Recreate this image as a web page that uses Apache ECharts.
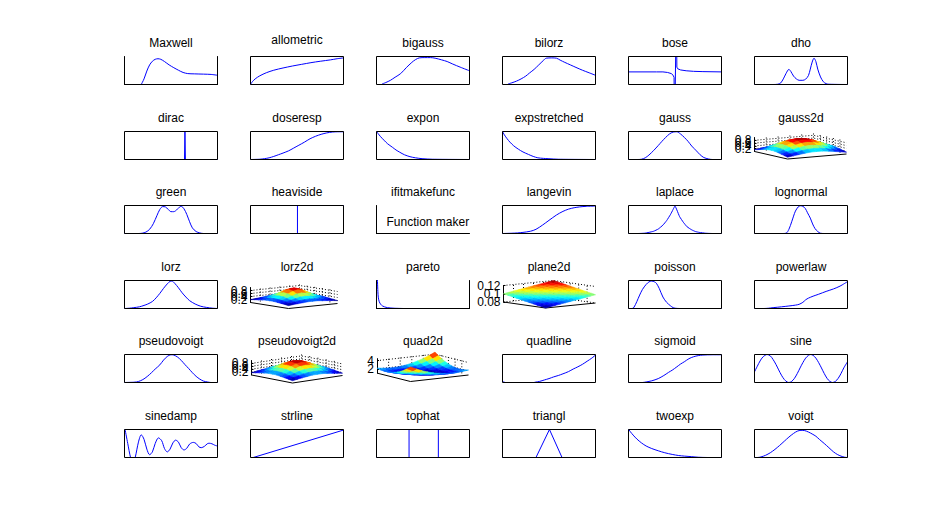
<!DOCTYPE html>
<html><head><meta charset="utf-8">
<script src="https://cdn.jsdelivr.net/npm/echarts@6/dist/echarts.min.js"></script>
<style>html,body{margin:0;padding:0;background:#fff;}#c{width:935px;height:522px;}</style>
</head><body><div id="c"></div>
<script>
// ---------------- panel titles (categories) ----------------
const panelNames = ['Maxwell','allometric','bigauss','bilorz','bose','dho',
  'dirac','doseresp','expon','expstretched','gauss','gauss2d',
  'green','heaviside','ifitmakefunc','langevin','laplace','lognormal',
  'lorz','lorz2d','pareto','plane2d','poisson','powerlaw',
  'pseudovoigt','pseudovoigt2d','quad2d','quadline','sigmoid','sine',
  'sinedamp','strline','tophat','triangl','twoexp','voigt'];
const makerText = 'Function maker';

// ---------------- z-axis tick labels of the 3D panels ----------------
const zTicksPeak = [0.2, 0.4, 0.6, 0.8];
const zTicksPlane = [0.08, 0.1, 0.12];
const zTicksQuad = [2, 4];

// ---------------- 1D curves: [x, y] in axis units (x and y 0..1) ----------------
const maxwell = [[0.18,0],[0.21,0.2],[0.24,0.48],[0.27,0.7],[0.3,0.83],[0.33,0.9],[0.36,0.92],[0.39,0.9],[0.43,0.82],[0.48,0.7],[0.53,0.6],[0.58,0.51],[0.63,0.43],[0.68,0.39],[0.75,0.38],[0.85,0.37],[0.93,0.36],[1,0.33]];
const allometric = [[0,0],[0.02,0.1],[0.05,0.2],[0.1,0.31],[0.17,0.42],[0.25,0.51],[0.35,0.59],[0.45,0.66],[0.55,0.72],[0.65,0.78],[0.75,0.83],[0.86,0.88],[0.93,0.92],[1,0.95]];
const bigauss = [[0.06,0.02],[0.1,0.07],[0.15,0.15],[0.2,0.26],[0.26,0.39],[0.32,0.6],[0.38,0.79],[0.42,0.89],[0.46,0.95],[0.52,0.96],[0.58,0.96],[0.63,0.94],[0.7,0.88],[0.76,0.82],[0.82,0.73],[0.9,0.62],[1,0.49]];
const bilorz = [[0.06,0.02],[0.1,0.06],[0.15,0.12],[0.2,0.2],[0.25,0.3],[0.29,0.41],[0.34,0.54],[0.39,0.7],[0.44,0.86],[0.47,0.94],[0.53,0.95],[0.58,0.94],[0.62,0.87],[0.67,0.79],[0.73,0.7],[0.79,0.61],[0.86,0.51],[0.93,0.42],[1,0.33]];
const bose = [[0,0.45],[0.3,0.45],[0.37,0.45],[0.42,0.43],[0.46,0.39],[0.48,0.33],[0.49,0.25],[0.495,-2],[0.515,3],[0.52,0.62],[0.53,0.56],[0.56,0.52],[0.62,0.49],[0.7,0.47],[0.8,0.46],[1,0.45]];
const dho = [[0,0],[0.2,0],[0.25,0.01],[0.28,0.05],[0.31,0.2],[0.34,0.4],[0.37,0.54],[0.39,0.47],[0.42,0.3],[0.45,0.2],[0.48,0.15],[0.52,0.15],[0.55,0.19],[0.58,0.32],[0.6,0.55],[0.62,0.8],[0.64,0.94],[0.66,0.82],[0.68,0.55],[0.71,0.27],[0.74,0.1],[0.77,0.03],[0.8,0.01],[1,0]];
const dirac = [[0,0],[0.645,0],[0.65,1],[0.655,0],[1,0]];
const doseresp = [[0,0],[0.1,0.01],[0.15,0.03],[0.2,0.06],[0.25,0.11],[0.3,0.17],[0.35,0.23],[0.41,0.31],[0.46,0.4],[0.52,0.51],[0.58,0.62],[0.64,0.74],[0.7,0.83],[0.76,0.9],[0.82,0.95],[0.88,0.98],[0.94,0.99],[1,0.99]];
const expon = [[0,1],[0.04,0.83],[0.08,0.69],[0.12,0.56],[0.17,0.44],[0.21,0.34],[0.25,0.26],[0.3,0.17],[0.36,0.1],[0.42,0.06],[0.49,0.03],[0.6,0.01],[1,0]];
const expstretched = [[0,1],[0.02,0.88],[0.05,0.74],[0.08,0.62],[0.12,0.49],[0.17,0.37],[0.22,0.27],[0.28,0.18],[0.33,0.11],[0.38,0.06],[0.44,0.04],[0.49,0.03],[0.6,0.01],[1,0]];
const gauss = [[0,0],[0.1,0],[0.14,0.01],[0.18,0.06],[0.22,0.16],[0.27,0.32],[0.32,0.5],[0.36,0.65],[0.4,0.79],[0.44,0.91],[0.48,0.98],[0.52,0.99],[0.56,0.91],[0.6,0.79],[0.64,0.65],[0.68,0.48],[0.73,0.31],[0.77,0.17],[0.81,0.07],[0.86,0.02],[0.9,0],[1,0]];
const green = [[0,0],[0.15,0],[0.19,0.01],[0.23,0.05],[0.27,0.15],[0.31,0.35],[0.35,0.65],[0.38,0.86],[0.41,0.96],[0.44,0.95],[0.47,0.86],[0.5,0.78],[0.53,0.78],[0.56,0.84],[0.59,0.94],[0.61,0.97],[0.64,0.88],[0.67,0.68],[0.7,0.42],[0.73,0.2],[0.77,0.07],[0.81,0.02],[0.85,0],[1,0]];
const heaviside = [[0,0],[0.505,0],[0.505,1],[1,1]];
const langevin = [[0,0],[0.1,0.01],[0.16,0.02],[0.22,0.04],[0.3,0.08],[0.36,0.15],[0.43,0.3],[0.5,0.47],[0.58,0.66],[0.65,0.79],[0.71,0.87],[0.77,0.92],[0.83,0.95],[0.9,0.97],[1,0.98]];
const laplace = [[0,0],[0.1,0],[0.17,0.01],[0.22,0.04],[0.27,0.08],[0.32,0.16],[0.37,0.3],[0.41,0.46],[0.45,0.67],[0.48,0.86],[0.5,0.98],[0.52,0.84],[0.55,0.6],[0.59,0.4],[0.63,0.24],[0.68,0.13],[0.72,0.07],[0.76,0.04],[0.83,0.01],[0.9,0],[1,0]];
const lognormal = [[0,0],[0.3,0],[0.34,0.01],[0.37,0.15],[0.4,0.42],[0.42,0.62],[0.44,0.8],[0.47,0.95],[0.495,0.99],[0.52,0.97],[0.545,0.9],[0.57,0.74],[0.6,0.55],[0.625,0.34],[0.65,0.18],[0.68,0.07],[0.71,0.01],[0.75,0],[1,0]];
const lorz = [[0,0],[0.05,0.01],[0.1,0.03],[0.16,0.06],[0.21,0.11],[0.25,0.16],[0.3,0.25],[0.34,0.38],[0.38,0.54],[0.42,0.72],[0.46,0.88],[0.49,0.97],[0.51,0.98],[0.54,0.9],[0.58,0.74],[0.62,0.56],[0.66,0.41],[0.7,0.28],[0.76,0.16],[0.82,0.08],[0.88,0.04],[0.95,0.01],[1,0]];
const pareto = [[0.008,1.2],[0.015,0.6],[0.02,0.38],[0.03,0.24],[0.045,0.15],[0.065,0.09],[0.085,0.06],[0.12,0.03],[0.19,0.01],[0.29,0]];
const poisson = [[0,0],[0.04,0],[0.06,0.05],[0.09,0.25],[0.12,0.48],[0.15,0.68],[0.19,0.86],[0.22,0.95],[0.25,0.98],[0.28,0.95],[0.3,0.9],[0.33,0.72],[0.37,0.41],[0.41,0.22],[0.45,0.1],[0.48,0.03],[0.5,0.01],[0.55,0],[1,0]];
const powerlaw = [[0,0],[0.1,0],[0.15,0.01],[0.2,0.03],[0.29,0.06],[0.37,0.09],[0.44,0.12],[0.48,0.15],[0.52,0.22],[0.55,0.31],[0.58,0.37],[0.63,0.44],[0.69,0.51],[0.77,0.61],[0.85,0.7],[0.92,0.8],[1,0.96]];
const pseudovoigt = [[0,0],[0.1,0.01],[0.13,0.02],[0.17,0.06],[0.21,0.13],[0.25,0.23],[0.29,0.35],[0.33,0.48],[0.38,0.63],[0.42,0.8],[0.46,0.93],[0.5,0.99],[0.53,0.98],[0.57,0.91],[0.61,0.79],[0.65,0.64],[0.69,0.5],[0.73,0.35],[0.77,0.22],[0.81,0.12],[0.85,0.05],[0.89,0.02],[0.93,0],[1,0]];
const quadline = [[0,0.04],[0.02,0.01],[0.05,-0.02],[0.1,-0.06],[0.2,-0.08],[0.3,-0.04],[0.35,0.01],[0.4,0.04],[0.45,0.09],[0.5,0.14],[0.55,0.2],[0.6,0.25],[0.65,0.31],[0.71,0.39],[0.76,0.48],[0.81,0.56],[0.86,0.65],[0.91,0.76],[0.96,0.87],[1,0.98]];
const sigmoid = [[0,0],[0.15,0],[0.19,0.02],[0.25,0.06],[0.32,0.14],[0.38,0.25],[0.43,0.36],[0.47,0.44],[0.52,0.56],[0.56,0.66],[0.6,0.74],[0.65,0.85],[0.7,0.92],[0.75,0.96],[0.8,0.98],[0.9,0.99],[1,0.99]];
const sine = [[0,0.38],[0.03,0.58],[0.06,0.77],[0.09,0.91],[0.135,1],[0.17,0.95],[0.2,0.82],[0.23,0.65],[0.26,0.45],[0.29,0.26],[0.32,0.11],[0.35,0.02],[0.37,0],[0.4,0.04],[0.43,0.15],[0.46,0.32],[0.49,0.52],[0.52,0.71],[0.55,0.87],[0.58,0.97],[0.605,1],[0.63,0.97],[0.66,0.87],[0.69,0.71],[0.72,0.52],[0.75,0.32],[0.78,0.15],[0.81,0.04],[0.84,0],[0.87,0.04],[0.9,0.15],[0.93,0.32],[0.96,0.52],[1,0.74]];
const sinedamp = [[0.005,1.02],[0.035,0.5],[0.065,0],[0.09,-0.2],[0.115,0],[0.15,0.55],[0.18,0.81],[0.21,0.65],[0.24,0.3],[0.27,0.1],[0.3,0.2],[0.33,0.5],[0.365,0.7],[0.4,0.6],[0.43,0.32],[0.46,0.2],[0.49,0.3],[0.52,0.52],[0.55,0.62],[0.58,0.55],[0.61,0.35],[0.64,0.27],[0.67,0.33],[0.7,0.48],[0.74,0.54],[0.77,0.5],[0.8,0.38],[0.825,0.35],[0.86,0.4],[0.89,0.49],[0.91,0.51],[0.94,0.49],[0.97,0.44],[1,0.41]];
const strline = [[0,-0.03],[1,0.98]];
const tophat = [[0,0],[0.35,0],[0.35,1],[0.665,1],[0.665,0],[1,0]];
const triangl = [[0,0],[0.36,0],[0.505,1],[0.64,0],[1,0]];
const twoexp = [[0,1.02],[0.02,0.92],[0.05,0.8],[0.09,0.66],[0.14,0.52],[0.19,0.41],[0.25,0.32],[0.32,0.24],[0.39,0.17],[0.47,0.11],[0.54,0.07],[0.6,0.05],[0.68,0.03],[0.75,0.01],[0.85,0],[1,0]];
const voigt = [[0,0],[0.03,0],[0.07,0.02],[0.12,0.08],[0.17,0.17],[0.22,0.29],[0.27,0.43],[0.32,0.58],[0.37,0.73],[0.42,0.86],[0.46,0.94],[0.5,0.97],[0.54,0.96],[0.58,0.91],[0.62,0.84],[0.66,0.76],[0.7,0.64],[0.75,0.5],[0.8,0.35],[0.85,0.2],[0.89,0.11],[0.93,0.05],[0.97,0.01],[1,0]];

// ---------------- 2D surfaces: z on an 11x11 grid (rows: front axis, cols: right axis) ----------------
const gauss2dZ = [
 [.13,.19,.25,.31,.35,.36,.35,.31,.25,.19,.13],
 [.19,.27,.36,.44,.50,.52,.50,.44,.36,.27,.19],
 [.25,.36,.48,.59,.66,.69,.66,.59,.48,.36,.25],
 [.31,.44,.59,.72,.82,.85,.82,.72,.59,.44,.31],
 [.35,.50,.66,.82,.92,.96,.92,.82,.66,.50,.35],
 [.36,.52,.69,.85,.96,1.0,.96,.85,.69,.52,.36],
 [.35,.50,.66,.82,.92,.96,.92,.82,.66,.50,.35],
 [.31,.44,.59,.72,.82,.85,.82,.72,.59,.44,.31],
 [.25,.36,.48,.59,.66,.69,.66,.59,.48,.36,.25],
 [.19,.27,.36,.44,.50,.52,.50,.44,.36,.27,.19],
 [.13,.19,.25,.31,.35,.36,.35,.31,.25,.19,.13]];
const lorz2dZ = [
 [.19,.23,.26,.29,.32,.32,.32,.29,.26,.23,.19],
 [.23,.27,.32,.38,.41,.43,.41,.38,.32,.27,.23],
 [.26,.32,.40,.48,.55,.57,.55,.48,.40,.32,.26],
 [.29,.38,.48,.60,.71,.75,.71,.60,.48,.38,.29],
 [.32,.41,.55,.71,.86,.92,.86,.71,.55,.41,.32],
 [.32,.43,.57,.75,.92,1.0,.92,.75,.57,.43,.32],
 [.32,.41,.55,.71,.86,.92,.86,.71,.55,.41,.32],
 [.29,.38,.48,.60,.71,.75,.71,.60,.48,.38,.29],
 [.26,.32,.40,.48,.55,.57,.55,.48,.40,.32,.26],
 [.23,.27,.32,.38,.41,.43,.41,.38,.32,.27,.23],
 [.19,.23,.26,.29,.32,.32,.32,.29,.26,.23,.19]];
const plane2dZ = [
 [.100,.102,.104,.106,.108,.110,.112,.114,.116,.118,.120],
 [.098,.100,.102,.104,.106,.108,.110,.112,.114,.116,.118],
 [.096,.098,.100,.102,.104,.106,.108,.110,.112,.114,.116],
 [.094,.096,.098,.100,.102,.104,.106,.108,.110,.112,.114],
 [.092,.094,.096,.098,.100,.102,.104,.106,.108,.110,.112],
 [.090,.092,.094,.096,.098,.100,.102,.104,.106,.108,.110],
 [.088,.090,.092,.094,.096,.098,.100,.102,.104,.106,.108],
 [.086,.088,.090,.092,.094,.096,.098,.100,.102,.104,.106],
 [.084,.086,.088,.090,.092,.094,.096,.098,.100,.102,.104],
 [.082,.084,.086,.088,.090,.092,.094,.096,.098,.100,.102],
 [.080,.082,.084,.086,.088,.090,.092,.094,.096,.098,.100]];
const pseudovoigt2dZ = [
 [.16,.21,.26,.30,.34,.34,.34,.30,.26,.21,.16],
 [.21,.27,.34,.41,.46,.48,.46,.41,.34,.27,.21],
 [.26,.34,.44,.54,.61,.63,.61,.54,.44,.34,.26],
 [.30,.41,.54,.66,.77,.80,.77,.66,.54,.41,.30],
 [.34,.46,.61,.77,.89,.94,.89,.77,.61,.46,.34],
 [.34,.48,.63,.80,.94,1.0,.94,.80,.63,.48,.34],
 [.34,.46,.61,.77,.89,.94,.89,.77,.61,.46,.34],
 [.30,.41,.54,.66,.77,.80,.77,.66,.54,.41,.30],
 [.26,.34,.44,.54,.61,.63,.61,.54,.44,.34,.26],
 [.21,.27,.34,.41,.46,.48,.46,.41,.34,.27,.21],
 [.16,.21,.26,.30,.34,.34,.34,.30,.26,.21,.16]];
const quad2dZ = [
 [2.20,2.01,1.91,1.90,1.99,2.18,2.45,2.82,3.29,3.85,4.50],
 [2.01,1.77,1.62,1.57,1.62,1.75,1.98,2.31,2.73,3.24,3.85],
 [1.91,1.62,1.43,1.34,1.33,1.42,1.61,1.89,2.26,2.73,3.29],
 [1.90,1.57,1.34,1.19,1.14,1.19,1.33,1.56,1.89,2.31,2.82],
 [1.99,1.62,1.33,1.14,1.05,1.05,1.14,1.33,1.61,1.98,2.45],
 [2.18,1.75,1.42,1.19,1.05,1.00,1.05,1.19,1.42,1.75,2.18],
 [2.45,1.98,1.61,1.33,1.14,1.05,1.05,1.14,1.33,1.62,1.99],
 [2.82,2.31,1.89,1.56,1.33,1.19,1.14,1.19,1.34,1.57,1.90],
 [3.29,2.73,2.26,1.89,1.61,1.42,1.33,1.34,1.43,1.62,1.91],
 [3.85,3.24,2.73,2.31,1.98,1.75,1.62,1.57,1.62,1.77,2.01],
 [4.50,3.85,3.29,2.82,2.45,2.18,1.99,1.90,1.91,2.01,2.20]];

// ---------------- panel styling / kind ----------------
const S = 0.3;
const specs = {
  Maxwell:{data:maxwell,smooth:S,frame:'open3'}, allometric:{data:allometric,smooth:S},
  bigauss:{data:bigauss,smooth:S}, bilorz:{data:bilorz,smooth:S}, bose:{data:bose}, dho:{data:dho,smooth:S},
  dirac:{data:dirac}, doseresp:{data:doseresp,smooth:S}, expon:{data:expon,smooth:S},
  expstretched:{data:expstretched,smooth:S}, gauss:{data:gauss,smooth:S},
  gauss2d:{surf:gauss2dZ,ticks:zTicksPeak,zmin:0,zmax:1,L:[0,20],B:[33,27.5],R:[92,22.5],Hz:14},
  green:{data:green,smooth:S}, heaviside:{data:heaviside}, ifitmakefunc:{frame:'open2',text:makerText},
  langevin:{data:langevin,smooth:S}, laplace:{data:laplace,smooth:0.15}, lognormal:{data:lognormal,smooth:S},
  lorz:{data:lorz,smooth:S},
  lorz2d:{surf:lorz2dZ,ticks:zTicksPeak,zmin:0,zmax:1,L:[0,22],B:[38,28],R:[87,23],Hz:15},
  pareto:{data:pareto,smooth:S,frame:'open3'},
  plane2d:{surf:plane2dZ,ticks:zTicksPlane,zmin:0.08,zmax:0.12,L:[1,21.5],B:[43,27.5],R:[93,22.5],Hz:16.5},
  poisson:{data:poisson,smooth:S}, powerlaw:{data:powerlaw,smooth:S},
  pseudovoigt:{data:pseudovoigt,smooth:S},
  pseudovoigt2d:{surf:pseudovoigt2dZ,ticks:zTicksPeak,zmin:0,zmax:1,L:[1,20.5],B:[42,28.5],R:[92,21],Hz:14.5},
  quad2d:{surf:quad2dZ,ticks:zTicksQuad,zmin:1,zmax:4.5,L:[0.5,18.6],B:[34,27],R:[92,20.5],Hz:14.5},
  quadline:{data:quadline,smooth:S}, sigmoid:{data:sigmoid,smooth:S}, sine:{data:sine,smooth:S},
  sinedamp:{data:sinedamp,smooth:S}, strline:{data:strline}, tophat:{data:tophat}, triangl:{data:triangl},
  twoexp:{data:twoexp,smooth:S}, voigt:{data:voigt,smooth:S}
};

const colLefts = [124.5,250.5,376.5,502.5,628.5,754.5];
const rowTops = [56.5,131.5,205.5,280.5,354.5,429.5];
const W = 93, H = 28;
const FONT = "'Liberation Sans', Arial, Helvetica, sans-serif";

function jet(t){
  t = Math.max(0, Math.min(1, t));
  t = Math.round(t*63)/63;
  const c = x => Math.round(255*Math.max(0, Math.min(1, x)));
  return 'rgb(' + c(1.5-Math.abs(4*t-3)) + ',' + c(1.5-Math.abs(4*t-2)) + ',' + c(1.5-Math.abs(4*t-1)) + ')';
}
function makeProj(sp, api){
  return function(u, v, z){
    const xo = u*(sp.B[0]-sp.L[0]) + v*(sp.R[0]-sp.B[0]);
    const dy = u*(sp.B[1]-sp.L[1]) + v*(sp.R[1]-sp.B[1]);
    const p = api.coord([xo, z]);
    return [p[0], p[1] + dy];
  };
}

const grids = [], xAxes = [], yAxes = [], series = [], elements = [];
const black = {color:'#000', width:1};
panelNames.forEach(function(name, k){
  const r = Math.floor(k/6), c = k % 6;
  const bx = colLefts[c], by = rowTops[r];
  const sp = specs[name];
  elements.push({type:'text', x: bx + W/2, y: by - (name === 'allometric' ? 17 : 13.5),
    style:{text:name, fill:'#000', font:'12px ' + FONT, align:'center', verticalAlign:'middle'}});
  const gi = grids.length;
  if (sp.surf) {
    const L = sp.L, R = sp.R, n = sp.surf.length, Z = sp.surf;
    grids.push({left: bx + L[0], top: by + L[1] - sp.Hz, width: R[0]-L[0], height: sp.Hz, show:false});
    xAxes.push({type:'value', gridIndex:gi, min:0, max:R[0]-L[0], show:false});
    const yi = yAxes.length;
    yAxes.push({type:'value', gridIndex:gi, min:sp.zmin, max:sp.zmax, position:'left',
      axisLine:{show:true, onZero:false, lineStyle:black},
      axisTick:{show:true, inside:true, length:2, customValues:sp.ticks, lineStyle:black},
      axisLabel:{show:false}, splitLine:{show:false}});
    let zlo = Infinity, zhi = -Infinity;
    Z.forEach(row => row.forEach(v => { zlo = Math.min(zlo, v); zhi = Math.max(zhi, v); }));
    // back walls, dotted grid, base axes and z tick labels
    series.push({type:'custom', xAxisIndex:gi, yAxisIndex:yi, data:[[0,0]], clip:false, silent:true, z:1,
      renderItem:function(params, api){
        const P = makeProj(sp, api);
        const dash = {stroke:'#000', lineWidth:1, lineDash:[1,2], fill:null};
        const ch = [];
        sp.ticks.forEach(t => ch.push({type:'polyline', shape:{points:[P(0,0,t),P(0,1,t),P(1,1,t)]}, style:dash}));
        for (let q = 1; q <= 5; q++) {
          const f = q/5;
          const a = P(0,f,sp.zmin), b = P(0,f,sp.zmax);
          ch.push({type:'line', shape:{x1:a[0],y1:a[1],x2:b[0],y2:b[1]}, style:dash});
          if (q < 5) {
            const c1 = P(f,1,sp.zmin), c2 = P(f,1,sp.zmax);
            ch.push({type:'line', shape:{x1:c1[0],y1:c1[1],x2:c2[0],y2:c2[1]}, style:dash});
          }
        }
        ch.push({type:'polyline', shape:{points:[P(0,0,sp.zmin),P(1,0,sp.zmin),P(1,1,sp.zmin)]},
          style:{stroke:'#000', lineWidth:1, fill:null}});
        sp.ticks.forEach(t => {
          const p = api.coord([0, t]);
          ch.push({type:'text', x: p[0] - 3, y: p[1],
            style:{text:String(t), fill:'#000', font:'12px ' + FONT, align:'right', verticalAlign:'middle'}});
        });
        return {type:'group', children:ch};
      }});
    const cells = [];
    for (let i = 0; i < n-1; i++) for (let j = 0; j < n-1; j++) cells.push([i, j]);
    series.push({type:'custom', xAxisIndex:gi, yAxisIndex:yi, data:cells, clip:false, silent:true, z:3,
      renderItem:function(params, api){
        const i = api.value(0), j = api.value(1);
        const P = makeProj(sp, api);
        const pts = [[i,j],[i+1,j],[i+1,j+1],[i,j+1]].map(q => P(q[0]/(n-1), q[1]/(n-1), Z[q[0]][q[1]]));
        const zm = (Z[i][j] + Z[i+1][j] + Z[i+1][j+1] + Z[i][j+1]) / 4;
        const col = jet((zm - zlo) / (zhi - zlo));
        const depth = (i+0.5)/(n-1)*(sp.B[1]-sp.L[1]) + (j+0.5)/(n-1)*(sp.R[1]-sp.B[1]);
        return {type:'polygon', shape:{points:pts}, z2: Math.round(depth*100) + 1000,
          style:{fill:col, stroke:col, lineWidth:0.6}};
      }});
  } else {
    const frame = sp.frame || 'box';
    grids.push({left:bx, top:by, width:W, height:H, show: frame === 'box', borderColor:'#000', borderWidth:1,
      backgroundColor:'transparent', z:5});
    const axisCommon = {axisTick:{show:false}, axisLabel:{show:false}, splitLine:{show:false},
      axisLine:{show:true, onZero:false, lineStyle:black}, z:5};
    const xi = xAxes.length;
    xAxes.push(Object.assign({type:'value', gridIndex:gi, min:0, max:1, show: frame !== 'box', position:'bottom'}, axisCommon));
    const yi = yAxes.length;
    yAxes.push(Object.assign({type:'value', gridIndex:gi, min:0, max:1, show: frame !== 'box', position:'left'}, axisCommon));
    if (frame === 'open3') {
      yAxes.push(Object.assign({type:'value', gridIndex:gi, min:0, max:1, show:true, position:'right'}, axisCommon));
    }
    if (sp.data) {
      series.push({type:'line', xAxisIndex:xi, yAxisIndex:yi, data:sp.data, showSymbol:false, symbol:'none',
        smooth: sp.smooth || false, clip:true, silent:true, z:2,
        lineStyle:{color:'#0000ff', width:1}});
    }
    if (sp.text) {
      elements.push({type:'text', x: bx + 10, y: by + 16.5,
        style:{text:sp.text, fill:'#000', font:'12px ' + FONT, align:'left', verticalAlign:'middle'}});
    }
  }
});

const chart = echarts.init(document.getElementById('c'), null, {renderer:'svg', width:935, height:522});
chart.setOption({
  animation:false,
  backgroundColor:'#ffffff',
  textStyle:{fontFamily:FONT},
  grid:grids, xAxis:xAxes, yAxis:yAxes, series:series,
  graphic:{elements:elements}
});
</script></body></html>
